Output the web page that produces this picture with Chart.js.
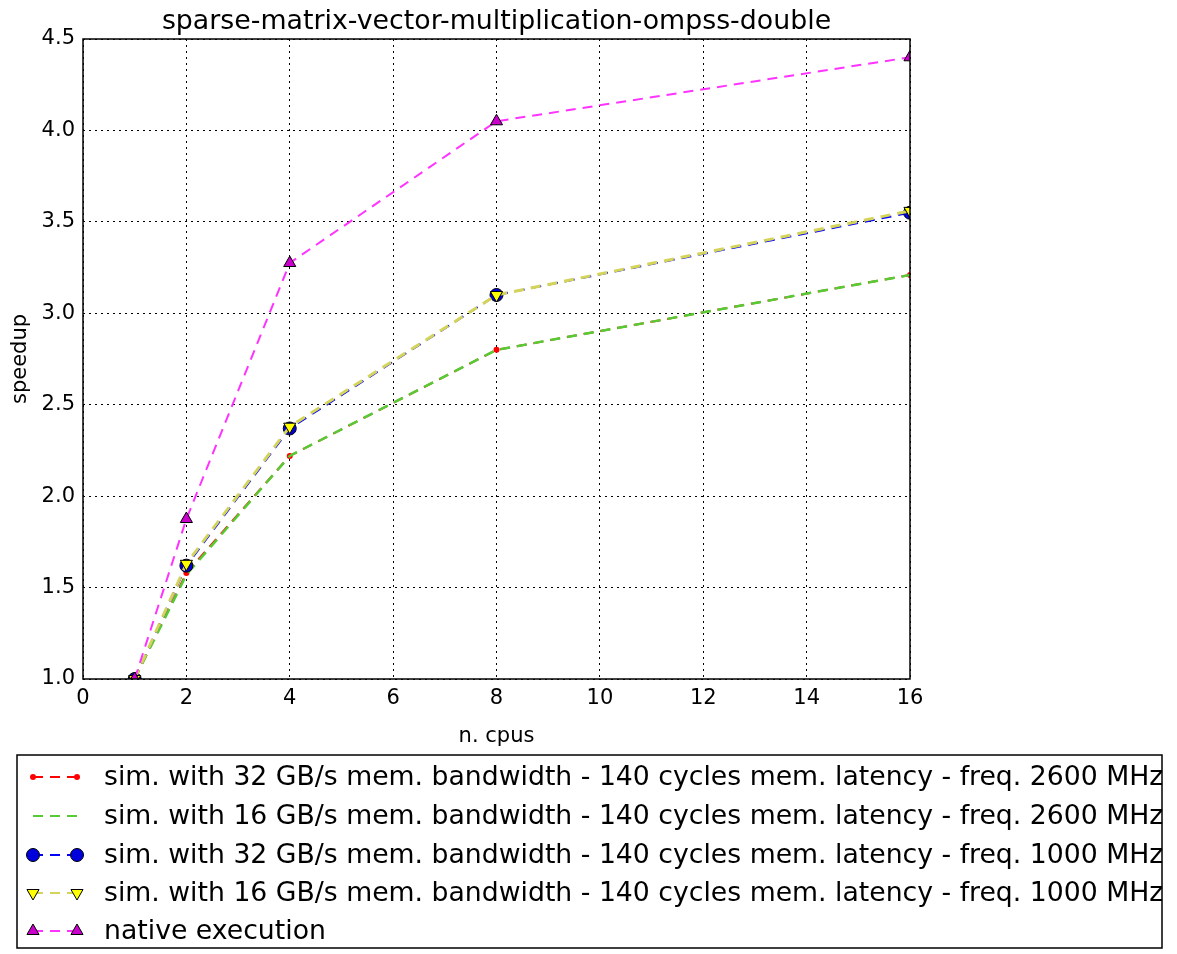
<!DOCTYPE html>
<html>
<head>
<meta charset="utf-8">
<script src="https://cdn.jsdelivr.net/npm/chart.js@4/dist/chart.umd.min.js"></script>
<style>
  html, body { margin: 0; padding: 0; background: #fff; }
  #wrap { width: 1177px; height: 954px; }
</style>
</head>
<body>
<div id="wrap"><canvas id="myChart" width="1177" height="954"></canvas></div>
<script>
// data
const cpus = [1, 2, 4, 8, 16];
const sim32bw2600 = [1.0, 1.58, 2.22, 2.80, 3.21];
const sim16bw2600 = [1.0, 1.57, 2.22, 2.80, 3.21];
const sim32bw1000 = [1.0, 1.62, 2.37, 3.10, 3.55];
const sim16bw1000 = [1.0, 1.63, 2.38, 3.10, 3.56];
const nativeRun = [1.0, 1.875, 3.275, 4.05, 4.40];
const xTicks = [0, 2, 4, 6, 8, 10, 12, 14, 16];
const yTicks = [1.0, 1.5, 2.0, 2.5, 3.0, 3.5, 4.0, 4.5];

const labels = [
    'sim. with 32 GB/s mem. bandwidth - 140 cycles mem. latency - freq. 2600 MHz',
    'sim. with 16 GB/s mem. bandwidth - 140 cycles mem. latency - freq. 2600 MHz',
    'sim. with 32 GB/s mem. bandwidth - 140 cycles mem. latency - freq. 1000 MHz',
    'sim. with 16 GB/s mem. bandwidth - 140 cycles mem. latency - freq. 1000 MHz',
    'native execution'
];
const FONT = 'DejaVu Sans';

function pts(values) {
    return cpus.map((c, i) => ({ x: c, y: values[i] }));
}

function series(label, values, line, fill, style, radius, rotation, width, order) {
    return {
        label: label,
        data: pts(values),
        borderColor: line,
        backgroundColor: fill,
        pointBackgroundColor: fill,
        pointBorderColor: style === 'none' ? fill : '#000',
        pointBorderWidth: style === 'none' || style === 'dot' ? 0 : 1,
        pointStyle: style === 'none' ? false : (style === 'dot' ? 'circle' : style),
        pointRadius: style === 'none' ? 0 : radius,
        pointRotation: rotation,
        borderWidth: width,
        borderDash: [10, 7],
        tension: 0,
        fill: false,
        order: order
    };
}

const datasets = [
    series(labels[0], sim32bw2600, '#ff0000', '#ff0000', 'dot', 3, 0, 2, 5),
    series(labels[1], sim16bw2600, '#55cc33', '#55cc33', 'none', 0, 0, 2.5, 4),
    series(labels[2], sim32bw1000, '#0000ff', '#0000dd', 'circle', 6.5, 0, 2, 3),
    series(labels[3], sim16bw1000, '#d4d45a', '#ffff00', 'triangle', 7, 180, 3, 2),
    series(labels[4], nativeRun, '#ff33ff', '#cc00cc', 'triangle', 7, 0, 2, 1)
];

// title, frame and matplotlib style legend box
const decorations = {
    id: 'decorations',
    afterDraw(c) {
        const ctx = c.ctx;
        const a = c.chartArea;
        ctx.save();
        ctx.strokeStyle = '#000';
        ctx.lineWidth = 1.5;
        ctx.strokeRect(a.left, a.top, a.right - a.left, a.bottom - a.top);

        ctx.fillStyle = '#000';
        ctx.font = '26.8px "' + FONT + '"';
        ctx.textAlign = 'center';
        ctx.textBaseline = 'alphabetic';
        ctx.fillText('sparse-matrix-vector-multiplication-ompss-double', (a.left + a.right) / 2, 29);

        // legend
        const bx = 17, by = 755, bw = 1145, bh = 193;
        ctx.lineWidth = 1.5;
        ctx.strokeRect(bx, by, bw, bh);
        const rowY = [777, 816, 855, 893, 931];
        c.data.datasets.forEach((ds, i) => {
            const y = rowY[i];
            ctx.save();
            ctx.strokeStyle = ds.borderColor;
            ctx.lineWidth = 2;
            ctx.setLineDash([10, 7]);
            ctx.beginPath();
            ctx.moveTo(33, y);
            ctx.lineTo(77, y);
            ctx.stroke();
            ctx.restore();
            if (ds.pointStyle) {
                [33, 77].forEach(px => {
                    ctx.save();
                    ctx.fillStyle = ds.pointBackgroundColor;
                    ctx.strokeStyle = ds.pointBorderColor;
                    ctx.lineWidth = ds.pointBorderWidth || 0.001;
                    Chart.helpers.drawPoint(ctx, {
                        pointStyle: ds.pointStyle,
                        radius: ds.pointRadius,
                        rotation: ds.pointRotation,
                        borderWidth: ds.pointBorderWidth
                    }, px, y);
                    ctx.restore();
                });
            }
            ctx.fillStyle = '#000';
            ctx.font = '26.7px "' + FONT + '"';
            ctx.textAlign = 'left';
            ctx.textBaseline = 'middle';
            ctx.fillText(ds.label, 104, y + 1);
        });
        ctx.restore();
    }
};

const chart = new Chart(document.getElementById('myChart').getContext('2d'), {
    type: 'line',
    data: { datasets: datasets },
    options: {
        responsive: false,
        animation: false,
        layout: { padding: { top: 39, right: 267, bottom: 205, left: 0 } },
        plugins: {
            legend: { display: false },
            title: { display: false },
            tooltip: { enabled: false }
        },
        scales: {
            x: {
                type: 'linear',
                min: 0,
                max: 16,
                afterFit: s => { s.height = 70; },
                afterBuildTicks: s => { s.ticks = xTicks.map(v => ({ value: v })); },
                grid: { color: '#000', lineWidth: 1, drawTicks: false },
                border: { display: false, dash: [2, 4] },
                ticks: {
                    color: '#000',
                    padding: 7,
                    font: { family: FONT, size: 21 },
                    maxRotation: 0,
                    callback: v => String(v)
                },
                title: {
                    display: true,
                    text: 'n. cpus',
                    color: '#000',
                    font: { family: FONT, size: 21 },
                    padding: { top: 4, bottom: 0 }
                }
            },
            y: {
                min: 1.0,
                max: 4.5,
                afterFit: s => { s.width = 83; },
                afterBuildTicks: s => { s.ticks = yTicks.map(v => ({ value: v })); },
                grid: { color: '#000', lineWidth: 1, drawTicks: false },
                border: { display: false, dash: [2, 4] },
                ticks: {
                    color: '#000',
                    padding: 8,
                    font: { family: FONT, size: 21 },
                    callback: v => Number(v).toFixed(1)
                },
                title: {
                    display: true,
                    text: 'speedup',
                    color: '#000',
                    font: { family: FONT, size: 21 },
                    padding: { top: 8, bottom: 0 }
                }
            }
        }
    },
    plugins: [decorations]
});
</script>
</body>
</html>
